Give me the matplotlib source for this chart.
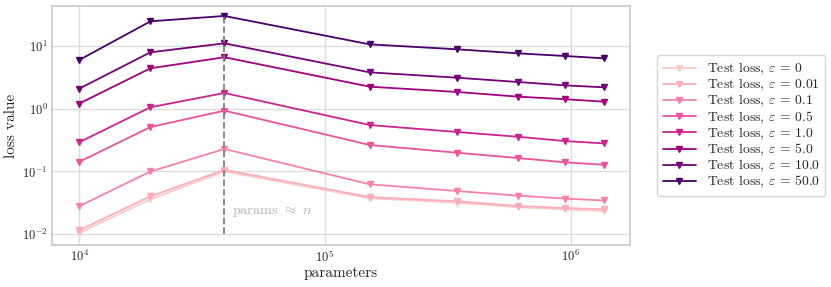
import matplotlib
matplotlib.use("Agg")
import matplotlib.pyplot as plt
import seaborn as sns
import numpy as np

params = [1.0e4, 1.95e4, 3.9e4, 1.52e5, 3.43e5, 6.07e5, 9.45e5, 1.36e6]
epsilons = ["0", "0.01", "0.1", "0.5", "1.0", "5.0", "10.0", "50.0"]
losses = {
    "0":    [0.0106, 0.0361, 0.100, 0.0375, 0.0319, 0.0270, 0.0250, 0.0235],
    "0.01": [0.0116, 0.0403, 0.106, 0.0393, 0.0336, 0.0283, 0.0263, 0.0250],
    "0.1":  [0.028, 0.100, 0.228, 0.0626, 0.049, 0.0414, 0.0371, 0.0346],
    "0.5":  [0.142, 0.509, 0.927, 0.264, 0.199, 0.164, 0.140, 0.128],
    "1.0":  [0.291, 1.05, 1.77, 0.548, 0.425, 0.357, 0.305, 0.280],
    "5.0":  [1.20, 4.37, 6.55, 2.23, 1.84, 1.55, 1.41, 1.29],
    "10.0": [2.07, 7.85, 10.9, 3.77, 3.10, 2.65, 2.34, 2.18],
    "50.0": [5.9, 24.4, 29.7, 10.5, 8.77, 7.57, 6.86, 6.30],
}
interp_x = 3.9e4
annot_text = r"params $\approx$ $n$"

sns.set_theme(style="whitegrid")
plt.rcParams["font.family"] = ["cmr10", "DejaVu Serif"]
plt.rcParams["mathtext.fontset"] = "cm"
plt.rcParams["axes.formatter.use_mathtext"] = True

fig = plt.figure(figsize=(8.31, 2.87), dpi=100)
ax = fig.add_axes([0.0626, 0.146, 0.6955, 0.833])

cmap = plt.get_cmap("RdPu")
colors = [cmap(v) for v in np.linspace(0.22, 1.0, len(epsilons))]
for eps, c in zip(epsilons, colors):
    ax.plot(params, losses[eps], marker="v", color=c, lw=1.3, ms=5,
            label=r"Test loss, $\varepsilon$ = " + eps)

ax.set_xscale("log")
ax.set_yscale("log")
ax.set_xlim(7.76e3, 1.74e6)
ax.set_ylim(6.76e-3, 42.7)

ymax = max(max(v) for v in losses.values())
ax.vlines(interp_x, 1e-2, ymax, colors="gray", linestyles="--", lw=1.3)
ax.text(4.2e4, 0.0227, annot_text, color="#b0b0b0", fontsize=10.2, va="center")

ax.set_xlabel("parameters", fontsize=11, labelpad=1)
ax.set_ylabel("loss value", fontsize=11, labelpad=3)
ax.tick_params(labelsize=9, pad=3, length=0)
ax.grid(True, which="major", color="#dddddd", lw=1)
ax.minorticks_off()
for s in ax.spines.values():
    s.set_color("#cccccc")

leg = ax.legend(loc="center left", bbox_to_anchor=(1.035, 0.5), fontsize=9.9,
                frameon=True, handlelength=2.4, labelspacing=0.0, borderpad=0.4,
                handletextpad=0.8)

fig.savefig("out.png", dpi=100)
